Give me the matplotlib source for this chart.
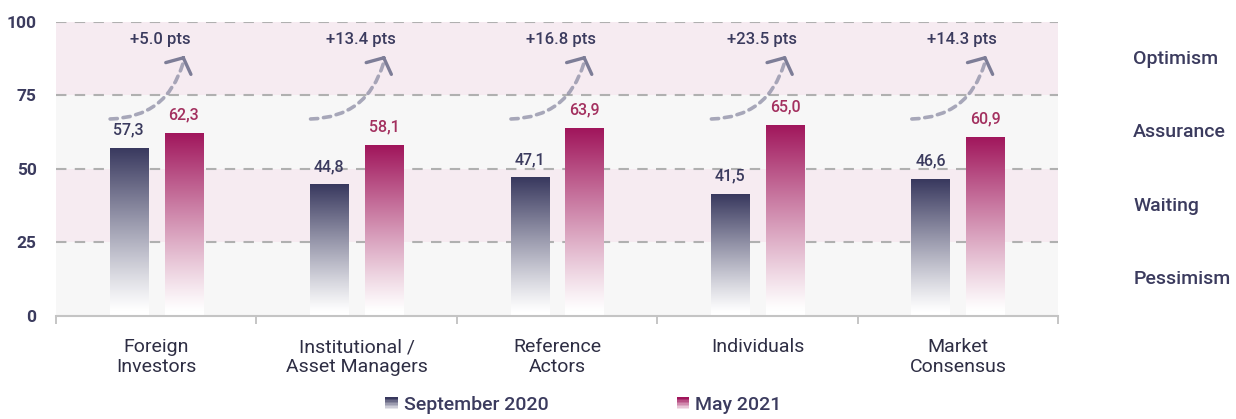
import numpy as np
import matplotlib
matplotlib.use("Agg")
import matplotlib.pyplot as plt
from matplotlib.legend_handler import HandlerBase
from matplotlib.patches import Rectangle
from matplotlib.colors import to_rgb

plt.rcParams['font.family'] = ['Roboto', 'DejaVu Sans']

categories = ["Foreign\nInvestors", "Institutional /\nAsset Managers", "Reference\nActors",
              "Individuals", "Market\nConsensus"]
sep_2020 = [57.3, 44.8, 47.1, 41.5, 46.6]
may_2021 = [62.3, 58.1, 63.9, 65.0, 60.9]
deltas = ["+5.0 pts", "+13.4 pts", "+16.8 pts", "+23.5 pts", "+14.3 pts"]
zones = ["Optimism", "Assurance", "Waiting", "Pessimism"]
zone_mid = [87.5, 62.5, 37.5, 12.5]

navy = "#38385e"
plum = "#a0155b"
text_navy = "#3b3b5e"
text_plum = "#a3305f"

fig = plt.figure(figsize=(12.36, 4.19), dpi=100)
ax = fig.add_axes([0.0453, 0.246, 0.8108, 0.7015])

# background bands
band_cols = ["#f7f7f7", "#f6ebf1", "#f7f7f7", "#f6ebf1"]
for k, c in enumerate(band_cols):
    ax.axhspan(25 * k, 25 * (k + 1), color=c, zorder=0, lw=0)
for yv in [25, 50, 75, 100]:
    ax.axhline(yv, color="#b0b0b0", lw=1.5, dashes=(5, 4), zorder=1)


def gradient_img(color):
    rgb = np.array(to_rgb(color))
    t = np.linspace(0, 1, 256)[:, None]
    f = np.clip((t - 0.03) / 0.97, 0, 1) ** 1.1
    col = 1 - (1 - rgb)[None, :] * f
    return col[:, None, :]


x = np.arange(len(categories))
w = 0.19
off = 0.137
for series, dx, color, tcol in [(sep_2020, -off, navy, text_navy), (may_2021, off, plum, text_plum)]:
    bars = ax.bar(x + dx, series, width=w, color="none", edgecolor="none", zorder=2)
    img = gradient_img(color)
    for b, v in zip(bars, series):
        bx0 = b.get_x()
        im = ax.imshow(img, extent=[bx0, bx0 + b.get_width(), 0, v], origin="lower",
                       aspect="auto", zorder=2, interpolation="bilinear")
        im.set_clip_path(b)
        ax.text(b.get_x() + b.get_width() / 2, v + 3.5, f"{v:.1f}".replace(".", ","),
                ha="center", va="bottom", fontsize=11.5, color=tcol, fontweight="medium")

# change arrows: dashed curved shaft + solid open head
for i, d in enumerate(deltas):
    tip = (i + 0.14, 88.5)
    ax.annotate("", xy=(tip[0] - 0.006, tip[1] - 2.5), xytext=(i - 0.23, 67),
                arrowprops=dict(arrowstyle="-", connectionstyle="arc3,rad=0.36",
                                color="#8c8ca4", lw=2.6, linestyle=(0, (2.0, 1.6)),
                                alpha=0.75, shrinkA=0, shrinkB=0),
                zorder=3)
    ax.annotate("", xy=tip, xytext=(tip[0] - 0.0063, tip[1] - 0.92),
                arrowprops=dict(arrowstyle="->,head_length=0.85,head_width=1.0",
                                color="#7d7d97", lw=2.4, shrinkA=0, shrinkB=0),
                zorder=3)
    ax.text(i + 0.02, 94, d, ha="center", va="center", fontsize=12, color=text_navy,
            fontweight="medium")

for z, ym in zip(zones, zone_mid):
    ax.text(1.075, ym, z, transform=ax.get_yaxis_transform(), ha="left", va="center",
            fontsize=14, color=text_navy, fontweight="medium")

ax.set_xlim(-0.5, len(categories) - 0.5)
ax.set_ylim(0, 100)
ax.set_yticks([0, 25, 50, 75, 100])
ax.tick_params(axis="y", length=0, labelsize=12.5, labelcolor=text_navy, pad=14)
for lab in ax.get_yticklabels():
    lab.set_fontweight("bold")
ax.set_xticks(x)
ax.set_xticklabels(categories, fontsize=14, color="#2e2e44", linespacing=1.1)
ax.set_xticks(np.arange(-0.5, len(categories)), minor=True)
ax.tick_params(axis="x", which="major", length=0, pad=16)
ax.tick_params(axis="x", which="minor", length=6, color="#bbbbbb", width=1.2)
for s in ["top", "right", "left"]:
    ax.spines[s].set_visible(False)
ax.spines["bottom"].set_color("#c4c4c4")
ax.spines["bottom"].set_linewidth(1.5)


class GradHandler(HandlerBase):
    def __init__(self, color):
        super().__init__()
        self.color = np.array(to_rgb(color))

    def create_artists(self, legend, orig, xd, yd, width, height, fontsize, trans):
        n = 8
        arts = []
        for k in range(n):
            f = (k + 1) / n
            c = 1 - (1 - self.color) * f
            arts.append(Rectangle((-xd, -yd + height * k / n), width, height / n,
                                  facecolor=c, edgecolor="none", transform=trans))
        return arts


h1 = Rectangle((0, 0), 1, 1)
h2 = Rectangle((0, 0), 1, 1)
leg = fig.legend([h1, h2], ["September 2020", "May 2021"], loc="lower center",
                 bbox_to_anchor=(0.472, -0.03), ncol=2, frameon=False, fontsize=14,
                 handlelength=0.65, handleheight=0.6, handletextpad=0.3, columnspacing=6.6,
                 handler_map={h1: GradHandler(navy), h2: GradHandler(plum)})
for t in leg.get_texts():
    t.set_color(text_navy)
    t.set_fontweight("medium")

fig.savefig("out.png", dpi=100)
